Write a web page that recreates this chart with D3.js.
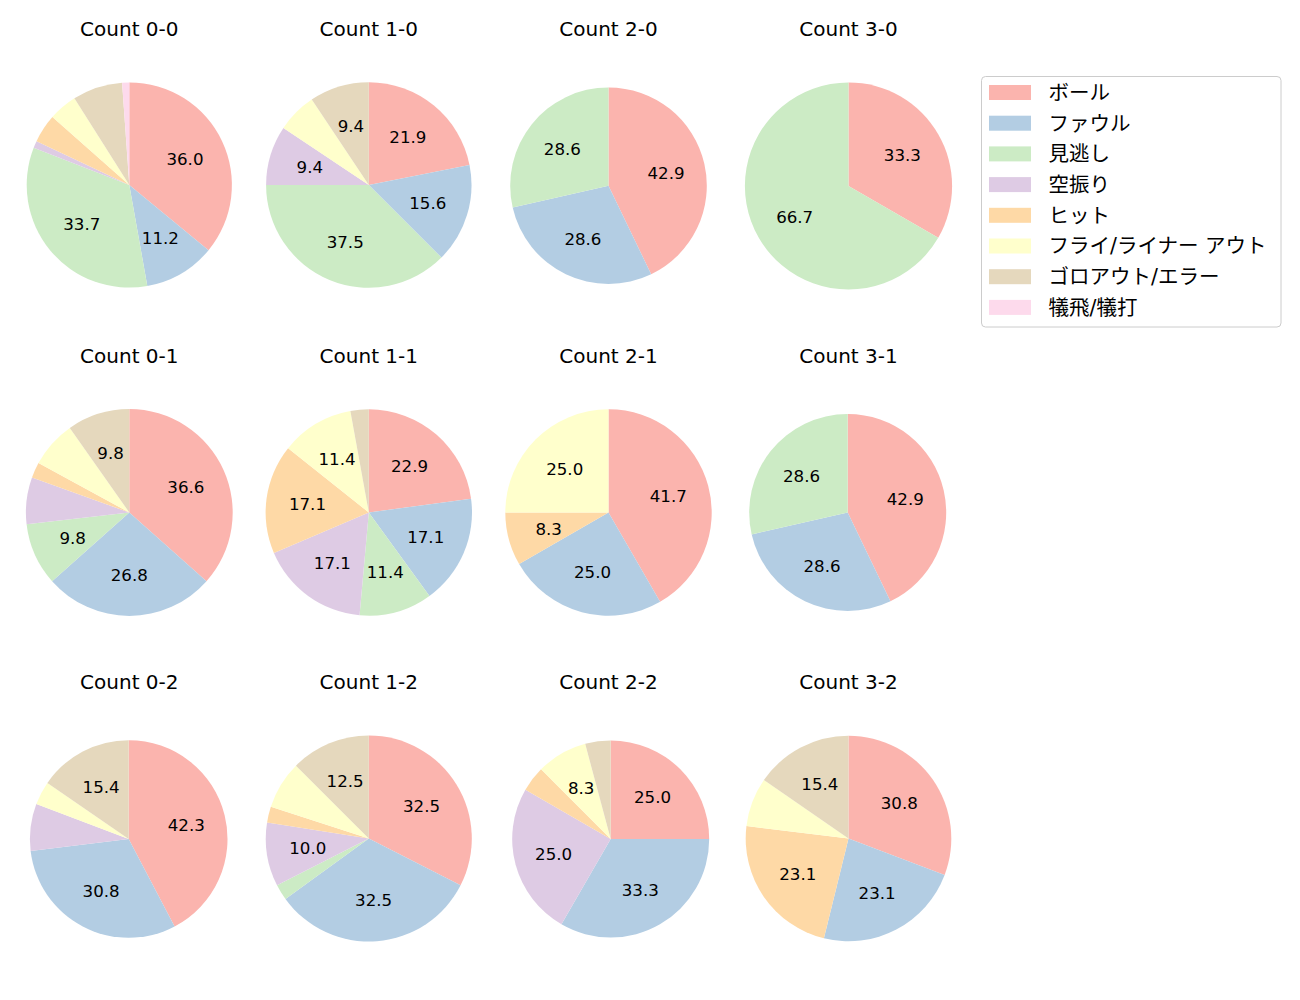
<!DOCTYPE html>
<html>
<head>
<meta charset="utf-8">
<script src="https://cdn.jsdelivr.net/npm/d3@7"></script>
<style>
  html, body { margin: 0; padding: 0; background: #ffffff; }
  svg { display: block; }
</style>
</head>
<body>
<svg id="chart" width="1300" height="1000"></svg>
<script>
// ---- data ----
const categories = ["ボール", "ファウル", "見逃し", "空振り", "ヒット", "フライ/ライナー アウト", "ゴロアウト/エラー", "犠飛/犠打"];
const colors = ["#fbb4ae", "#b3cde3", "#ccebc5", "#decbe4", "#fed9a6", "#ffffcc", "#e5d8bd", "#fddaec"];
const countTitles = ["Count 0-0", "Count 1-0", "Count 2-0", "Count 3-0",
                     "Count 0-1", "Count 1-1", "Count 2-1", "Count 3-1",
                     "Count 0-2", "Count 1-2", "Count 2-2", "Count 3-2"];
// pitch-result counts per count situation (order follows categories)
const count00 = [32, 10, 30, 1, 4, 4, 7, 1];
const count10 = [7, 5, 12, 3, 0, 2, 3, 0];
const count20 = [3, 2, 2, 0, 0, 0, 0, 0];
const count30 = [1, 0, 2, 0, 0, 0, 0, 0];
const count01 = [15, 11, 4, 3, 1, 3, 4, 0];
const count11 = [8, 6, 4, 6, 6, 4, 1, 0];
const count21 = [5, 3, 0, 0, 1, 3, 0, 0];
const count31 = [3, 2, 2, 0, 0, 0, 0, 0];
const count02 = [11, 8, 0, 2, 0, 1, 4, 0];
const count12 = [13, 13, 1, 4, 1, 3, 5, 0];
const count22 = [6, 8, 0, 6, 1, 2, 1, 0];
const count32 = [4, 3, 0, 0, 3, 1, 2, 0];
const seriesList = [count00, count10, count20, count30,
                    count01, count11, count21, count31,
                    count02, count12, count22, count32];
const labelThreshold = 8; // percent labels shown only for slices >= this

// ---- layout ----
const colX = [129.3, 368.8, 608.5, 848.5];
const rowY = [185, 512.5, 838.5];
const titleY = [28.5, 355.5, 682];
const radii = [102.6, 102.7, 98.3, 103.6,
               103.4, 103.2, 103.2, 98.5,
               98.8, 103.0, 98.5, 102.8];
const centerAdjX = [0, 0, 0, 0, 0, 0, 0, -0.8, -0.6, 0, 2.2, 0];
const centerAdjY = [0, 0, 0.7, 1, 0, 0, 0, 0, 0.5, 0, 0.5, 0];
const latinFont = "DejaVu Sans, sans-serif";
const jpFont = "DejaVu Sans, Noto Sans CJK JP, sans-serif";

const svg = d3.select("#chart");
const color = d3.scaleOrdinal().domain(categories).range(colors);
const pie = d3.pie().sort(null).value(d => d.v).startAngle(0).endAngle(2 * Math.PI);

seriesList.forEach((vals, i) => {
  const col = i % 4, row = Math.floor(i / 4);
  const cx = colX[col] + centerAdjX[i];
  const cy = rowY[row] + centerAdjY[i];
  const r = radii[i];
  const total = d3.sum(vals);
  const data = categories.map((c, k) => ({ c: c, v: vals[k] }));
  const arcs = pie(data);
  const arc = d3.arc().innerRadius(0).outerRadius(r);

  const g = svg.append("g").attr("transform", `translate(${cx},${cy})`);
  g.selectAll("path")
    .data(arcs.filter(a => a.data.v > 0))
    .join("path")
    .attr("d", arc)
    .attr("fill", a => color(a.data.c));

  g.selectAll("text")
    .data(arcs.filter(a => a.data.v / total * 100 >= labelThreshold))
    .join("text")
    .attr("x", a => 0.6 * r * Math.sin((a.startAngle + a.endAngle) / 2))
    .attr("y", a => -0.6 * r * Math.cos((a.startAngle + a.endAngle) / 2))
    .attr("dy", "0.36em")
    .attr("text-anchor", "middle")
    .attr("font-family", latinFont)
    .attr("font-size", "16.67px")
    .attr("fill", "#000")
    .text(a => (a.data.v / total * 100).toFixed(1));

  svg.append("text")
    .attr("x", colX[col])
    .attr("y", titleY[row])
    .attr("dy", "0.36em")
    .attr("text-anchor", "middle")
    .attr("font-family", latinFont)
    .attr("font-size", "20px")
    .attr("fill", "#000")
    .text(countTitles[i]);
});

// ---- legend ----
const lg = svg.append("g");
lg.append("rect")
  .attr("x", 981.5).attr("y", 76.5)
  .attr("width", 299.5).attr("height", 250.5)
  .attr("rx", 4).attr("ry", 4)
  .attr("fill", "#ffffff").attr("fill-opacity", 0.8)
  .attr("stroke", "#cccccc").attr("stroke-width", 1);
const rowH = 30.7;
const items = lg.selectAll("g.item").data(categories).join("g")
  .attr("class", "item")
  .attr("transform", (d, k) => `translate(0,${92.5 + k * rowH})`);
items.append("rect")
  .attr("x", 989).attr("y", -7.5)
  .attr("width", 42).attr("height", 15)
  .attr("fill", d => color(d));
items.append("text")
  .attr("x", 1048.5).attr("y", 0)
  .attr("dy", "0.36em")
  .attr("font-family", jpFont)
  .attr("font-size", "20.5px")
  .attr("fill", "#000")
  .text(d => d);
</script>
</body>
</html>
